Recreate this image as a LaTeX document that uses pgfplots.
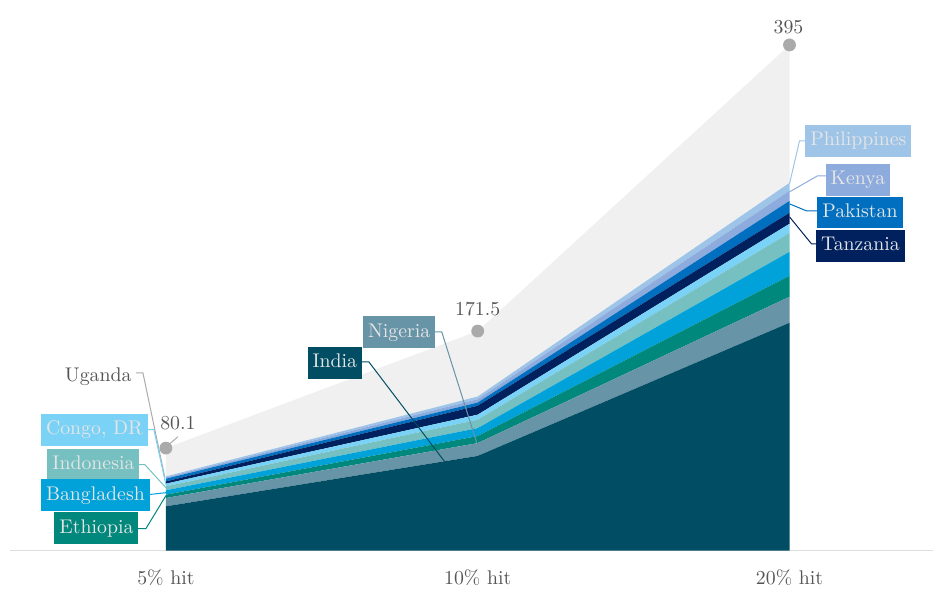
\documentclass[border=0pt]{standalone}
\usepackage{pgfplots}
\pgfplotsset{compat=1.18}
\definecolor{cIndia}{HTML}{014D64}
\definecolor{cNig}{HTML}{6794A7}
\definecolor{cEth}{HTML}{00887D}
\definecolor{cBang}{HTML}{01A2D9}
\definecolor{cIndo}{HTML}{76C0C1}
\definecolor{cCongo}{HTML}{7AD2F6}
\definecolor{cTan}{HTML}{00215E}
\definecolor{cPak}{HTML}{006FBF}
\definecolor{cKen}{HTML}{8EABDD}
\definecolor{cPhil}{HTML}{9EC4E8}
\definecolor{cRest}{HTML}{F0F0F0}
\definecolor{cDot}{HTML}{AAAAAA}
\definecolor{cTxt}{HTML}{555555}
\begin{document}
\begin{tikzpicture}[font=\fontsize{9.9pt}{11.5pt}\selectfont]
\path (-5pt,-17pt) rectangle (462pt,275.5pt);
\begin{axis}[
  at={(0,0)}, anchor=south west,
  scale only axis, width=462pt, height=275.5pt,
  xmin=-0.5, xmax=2.4615, ymin=0, ymax=430.1,
  axis x line=bottom, axis y line=none,
  x axis line style={-, draw=black!13, line width=0.6pt},
  xtick={0,1,2}, xticklabels={5\% hit,10\% hit,20\% hit},
  major tick length=0, ytick=\empty,
  xticklabel style={text=cTxt, yshift=-6pt},
  stack plots=y,
]
\addplot[fill=cIndia, draw=none] coordinates {(0,34.6) (1,74) (2,178)} \closedcycle;
\addplot[fill=cNig, draw=none] coordinates {(0,6.5) (1,10) (2,20.3)} \closedcycle;
\addplot[fill=cEth, draw=none] coordinates {(0,2.6) (1,5.5) (2,16.4)} \closedcycle;
\addplot[fill=cBang, draw=none] coordinates {(0,3.4) (1,6.2) (2,18.7)} \closedcycle;
\addplot[fill=cIndo, draw=none] coordinates {(0,3.1) (1,6.6) (2,14.8)} \closedcycle;
\addplot[fill=cCongo, draw=none] coordinates {(0,2.1) (1,3.9) (2,7.1)} \closedcycle;
\addplot[fill=cTan, draw=none] coordinates {(0,1.8) (1,7) (2,8.6)} \closedcycle;
\addplot[fill=cPak, draw=none] coordinates {(0,2.1) (1,2.5) (2,9.3)} \closedcycle;
\addplot[fill=cKen, draw=none] coordinates {(0,1.0) (1,2.6) (2,7.8)} \closedcycle;
\addplot[fill=cPhil, draw=none] coordinates {(0,0.8) (1,2.1) (2,6.3)} \closedcycle;
\addplot[fill=cRest, draw=none] coordinates {(0,22.1) (1,51.1) (2,107.7)} \closedcycle;
\end{axis}
\begin{axis}[
  at={(0,0)}, anchor=south west,
  scale only axis, width=462pt, height=275.5pt,
  xmin=-0.5, xmax=2.4615, ymin=0, ymax=430.1,
  hide axis, clip=false,
]
\addplot[only marks, mark=*, mark size=3pt, color=cDot] coordinates {(0,80.1) (1,171.5) (2,395)};
\end{axis}
\begin{scope}[x=0.5pt,y=-0.5pt,shift={(-5pt,275.5pt)},
  lbl/.style={fill=#1, text=white!90!black, inner xsep=2.5pt, inner ysep=0pt, minimum height=15.8pt, text height=7pt, text depth=2pt},
  ln/.style={draw=#1, line width=0.5pt}]
% leaders
\draw[ln=cDot] (136,373) -- (143,373) -- (165,478);
\draw[ln=cCongo] (146,430) -- (154,430) -- (166,485);
\draw[ln=cIndo] (138,465) -- (145,465) -- (166,488);
\draw[ln=cBang] (148,495) -- (166,493);
\draw[ln=cEth] (137,529) -- (146,529) -- (166,496);
\draw[ln=cIndia] (361,362) -- (369,362) -- (445,462);
\draw[ln=cNig] (434,332) -- (442,332) -- (477,443);
\draw[ln=cPhil] (808,141) -- (800,141) -- (790,184);
\draw[ln=cKen] (827,176) -- (818,176) -- (790,192);
\draw[ln=cPak] (819,211) -- (807,211) -- (790,204);
\draw[ln=cTan] (817,244) -- (812,244) -- (790,217);
\draw[ln=cDot] (170,444) -- (178,437);
% labels
\node[text=cTxt, anchor=east, inner sep=0pt] at (132,377) {Uganda};
\node[lbl=cCongo] at (94.5,430) {Congo, DR};
\node[lbl=cIndo] at (93.5,465) {Indonesia};
\node[lbl=cBang] at (95.5,495.5) {Bangladesh};
\node[lbl=cEth] at (96.5,528.5) {Ethiopia};
\node[lbl=cIndia] at (335,363) {India};
\node[lbl=cNig] at (399.5,332.5) {Nigeria};
\node[lbl=cPhil] at (859,141) {Philippines};
\node[lbl=cKen] at (858.5,180) {Kenya};
\node[lbl=cPak] at (860.5,212.5) {Pakistan};
\node[lbl=cTan] at (861,246) {Tanzania};
\node[text=cTxt, inner sep=0pt] at (178,423) {80.1};
\node[text=cTxt, inner sep=0pt] at (478,309) {171.5};
\node[text=cTxt, inner sep=0pt] at (789,27) {395};
\end{scope}
\end{tikzpicture}
\end{document}
